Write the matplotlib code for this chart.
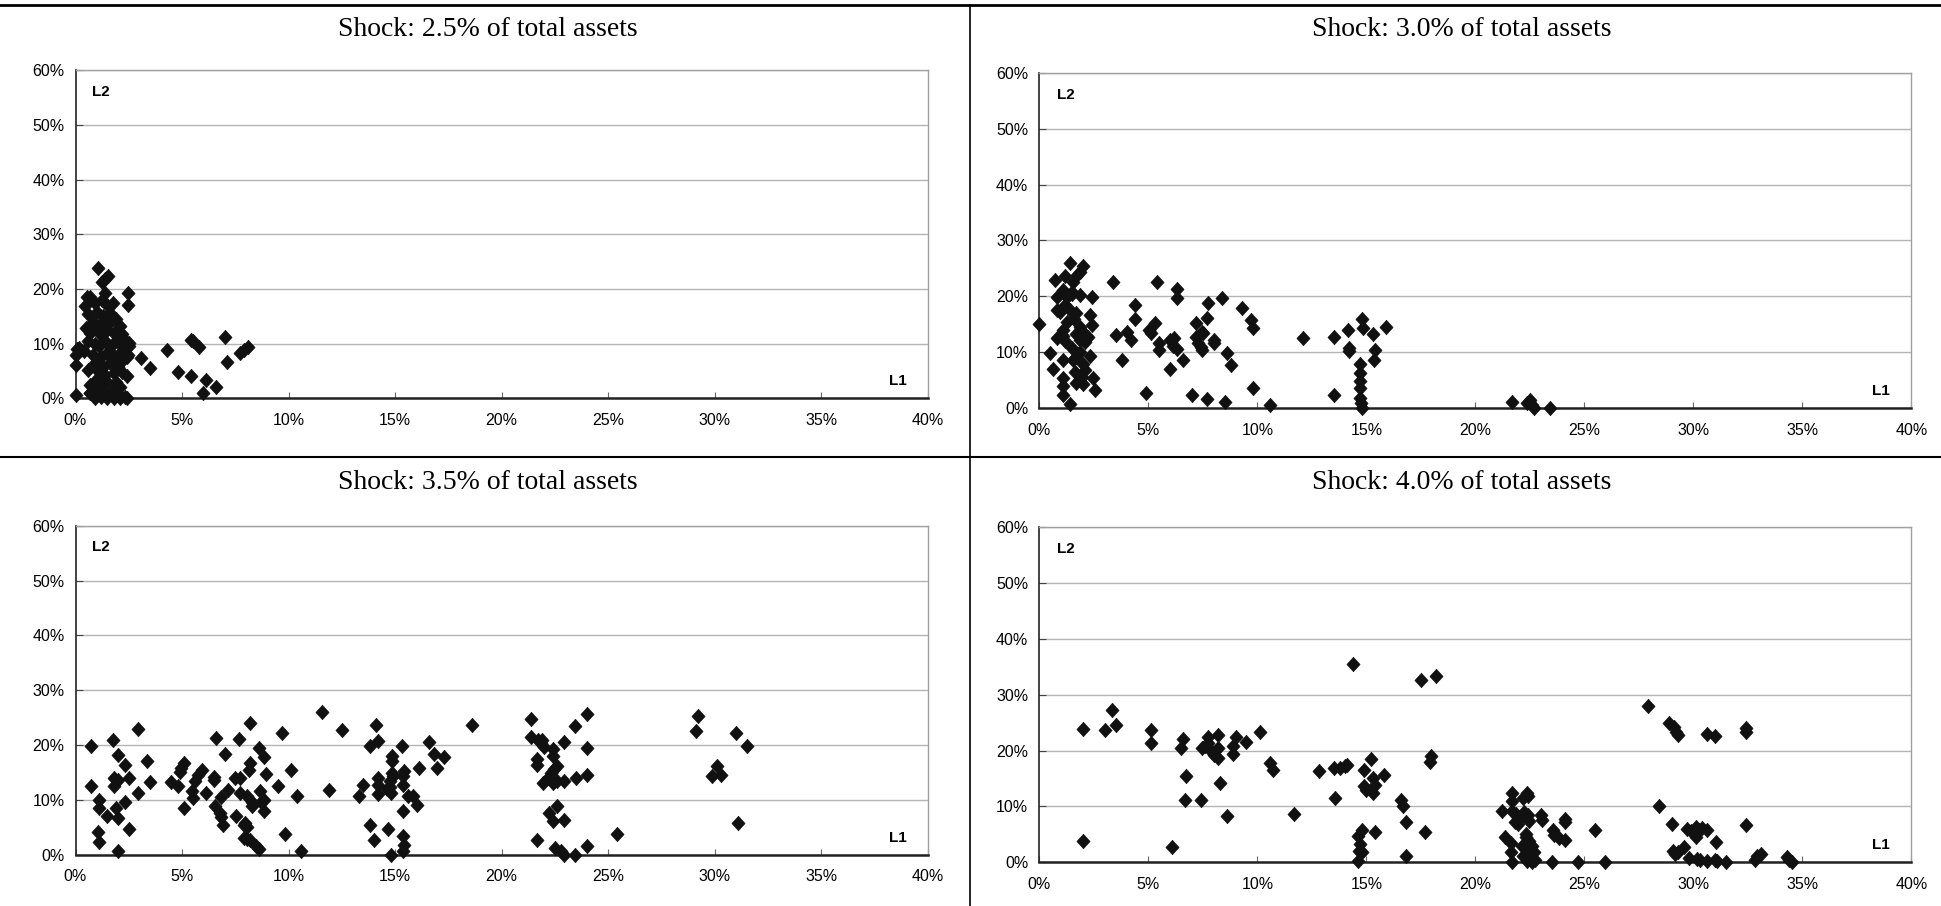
import matplotlib
matplotlib.use('Agg')
from matplotlib import pyplot as plt
from matplotlib.lines import Line2D
from matplotlib.ticker import FuncFormatter, MultipleLocator

# (L1, L2) pairs in %, shock 2.5% of total assets
p1_points = [
    (1.07, 23.8), (1.54, 22.4), (1.23, 21.3), (1.4, 21.8), (2.48, 19.2), (2.48, 17.1),
    (0.52, 18.6), (0.68, 18.6), (1.38, 19.2), (1.23, 18.0), (1.78, 17.5), (0.45, 16.8),
    (2.25, 11.0), (2.5, 10.1), (3.07, 7.3), (0.05, 9.1), (0.0, 7.9), (0.0, 6.1), (0.0, 0.6),
    (2.4, 7.6), (2.4, 4.0), (2.3, 0.3), (0.6, 5.2), (0.68, 2.4), (0.7, 0.9), (2.0, 5.8),
    (1.93, 2.1), (3.5, 5.5), (4.3, 8.9), (4.8, 4.8), (5.4, 10.7), (5.5, 10.4), (5.8, 9.4),
    (5.4, 4.1), (6.1, 3.3), (6.0, 1.0), (6.6, 2.1), (7.0, 11.3), (7.1, 6.6), (7.7, 8.3),
    (7.9, 8.9), (8.1, 9.4), (0.15, 9.2),
    (0.6, 15.5), (0.8, 14.0), (1.0, 15.8), (1.3, 15.0), (1.6, 15.6), (1.9, 14.5), (2.1, 13.2),
    (0.5, 12.8), (0.7, 12.0), (1.0, 12.9), (1.2, 11.5), (1.5, 12.5), (1.8, 12.0), (2.2, 11.8),
    (0.6, 10.5), (0.9, 10.0), (1.1, 9.5), (1.4, 10.4), (1.7, 9.8), (2.0, 10.3), (2.3, 9.4),
    (0.4, 8.6), (0.8, 8.0), (1.2, 7.6), (1.5, 8.3), (1.8, 7.8), (2.1, 8.2),
    (0.9, 6.4), (1.3, 5.8), (1.6, 6.5), (2.0, 6.2), (1.1, 4.9), (1.4, 4.2), (1.8, 4.6),
    (2.2, 4.8), (0.9, 3.2), (1.2, 2.7), (1.5, 3.0), (1.9, 2.9), (2.1, 2.0), (1.0, 1.5),
    (1.3, 1.1), (1.7, 1.4), (2.0, 0.8), (0.9, 0.0), (1.2, 0.2), (1.5, 0.0), (1.8, 0.1),
    (2.1, 0.0), (2.4, 0.0), (0.7, 0.9), (1.2, 13.8), (1.6, 13.9), (0.9, 17.5), (1.5, 17.0),
    (2.5, 9.5), (2.45, 8.0), (2.1, 6.4),
]

# shock 3.0% of total assets
p2_points = [
    (1.4, 25.9), (2.0, 25.4), (1.85, 24.4), (0.72, 22.9), (1.18, 23.6), (1.56, 22.6),
    (3.4, 22.5), (0.83, 19.9), (1.1, 21.1), (1.25, 19.9), (1.48, 20.5), (1.87, 20.2),
    (2.4, 19.9), (0.8, 17.5), (0.95, 17.2), (1.18, 18.5), (1.4, 17.6), (1.7, 17.0),
    (2.32, 16.7), (2.4, 14.9), (0.0, 15.1), (3.5, 13.1), (4.0, 13.7), (1.87, 14.6),
    (2.0, 13.7), (2.25, 12.8), (2.1, 11.8), (1.87, 12.2), (1.7, 13.2), (0.8, 12.5),
    (1.1, 14.0), (1.18, 12.0), (1.1, 13.0), (0.5, 9.8), (0.65, 7.1), (1.1, 8.6),
    (1.1, 5.4), (1.1, 3.9), (1.1, 2.4), (1.4, 0.8), (1.56, 8.6), (1.7, 9.2), (1.87, 10.1),
    (2.0, 8.0), (2.1, 6.9), (2.32, 9.3), (1.95, 5.6), (1.7, 4.6), (2.0, 4.3), (2.48, 5.4),
    (2.55, 3.3), (3.8, 8.6), (1.5, 10.8), (1.65, 6.5), (1.6, 16.0), (1.25, 15.5),
    (1.5, 20.8), (1.75, 23.8),
    (4.2, 12.2), (4.4, 18.5), (4.4, 15.9), (4.9, 2.8), (5.05, 14.0), (5.1, 13.4),
    (5.3, 15.3), (5.4, 22.6), (5.5, 11.6), (5.5, 10.4), (6.0, 12.2), (6.15, 11.2),
    (6.3, 21.4), (6.2, 12.6), (6.3, 10.6), (6.3, 19.7), (6.0, 7.0), (6.6, 8.6),
    (7.0, 2.4), (7.2, 15.2), (7.2, 12.8), (7.3, 11.6), (7.45, 13.7), (7.5, 13.4),
    (7.45, 10.4), (7.4, 11.0), (7.7, 16.1), (7.75, 18.9), (7.7, 1.6), (8.0, 12.3),
    (8.0, 11.6), (8.4, 19.8), (8.6, 9.8), (8.8, 7.7), (8.5, 1.2), (9.3, 17.9),
    (9.7, 15.8), (9.8, 14.3), (9.8, 3.6), (10.6, 0.6), (12.1, 12.5), (13.5, 12.7),
    (13.5, 2.4), (14.15, 14.0), (14.2, 10.7), (14.2, 10.3), (14.7, 8.0), (14.7, 6.3),
    (14.7, 4.8), (14.7, 3.6), (14.7, 1.8), (14.75, 0.9), (14.8, 0.0), (14.8, 15.9),
    (14.85, 14.3), (15.3, 13.2), (15.4, 10.4), (15.35, 8.6), (15.9, 14.6),
    (21.7, 1.2), (22.35, 0.9), (22.5, 1.5), (22.6, 0.6), (22.7, 0.0), (23.4, 0.0),
]

# shock 3.5% of total assets
p3_points = [
    (0.75, 19.9), (0.75, 12.6), (1.1, 10.0), (1.1, 8.6), (1.05, 4.1), (1.1, 2.4), (1.5, 7.1),
    (1.75, 21.0), (1.8, 14.0), (1.8, 12.6), (2.0, 18.1), (1.9, 8.6), (2.0, 6.7), (2.0, 0.7),
    (2.0, 13.7), (2.3, 16.4), (2.3, 9.6), (2.5, 14.0), (2.5, 4.6), (2.95, 23.0), (2.95, 11.3),
    (3.35, 17.1), (3.5, 13.2), (4.5, 13.2), (4.8, 12.5), (4.9, 15.0), (4.95, 15.8),
    (5.1, 16.8), (5.1, 8.6), (5.45, 11.6), (5.5, 10.4), (5.6, 13.4), (5.75, 14.6),
    (5.95, 15.5), (6.1, 11.3), (6.5, 13.7), (6.5, 14.2), (6.6, 21.3), (6.55, 8.8),
    (6.8, 7.6), (6.85, 6.9), (6.9, 5.5), (7.0, 18.3), (6.85, 10.5), (7.15, 11.8),
    (7.5, 14.0), (7.7, 14.0), (7.65, 21.1), (7.55, 7.0), (7.7, 11.3), (7.9, 5.5),
    (7.95, 5.8), (8.05, 5.0), (7.9, 3.1), (8.05, 2.9), (8.15, 15.5), (8.2, 16.8),
    (8.2, 24.1), (8.05, 10.7), (8.3, 9.7), (8.3, 8.8), (8.2, 2.7), (8.45, 1.5), (8.6, 1.0),
    (8.6, 19.5), (8.65, 11.6), (8.7, 9.7), (8.85, 17.8), (8.95, 14.8), (8.85, 10.0),
    (8.85, 7.9), (9.5, 12.6), (9.7, 22.2), (9.85, 3.7), (10.1, 15.5), (10.4, 10.7),
    (10.6, 0.7), (11.55, 26.0), (11.9, 11.8), (12.5, 22.8), (13.3, 10.7), (13.5, 12.8),
    (13.8, 19.8), (13.8, 5.5), (14.0, 2.7), (14.1, 23.6), (14.2, 20.8), (14.2, 14.0),
    (14.2, 12.8), (14.2, 11.0), (14.6, 11.9), (14.65, 4.7), (14.75, 13.4), (14.75, 12.4),
    (14.8, 11.3), (14.85, 18.0), (14.85, 17.1), (14.85, 14.9), (14.9, 14.3), (14.8, 0.0),
    (15.3, 19.8), (15.4, 15.2), (15.35, 14.3), (15.35, 12.8), (15.35, 7.9), (15.35, 3.4),
    (15.4, 1.8), (15.35, 0.6), (15.6, 10.7), (15.85, 10.7), (16.0, 9.1), (16.1, 15.8),
    (16.6, 20.5), (16.8, 18.3), (16.95, 15.8), (17.3, 17.8), (18.6, 23.6),
    (21.35, 24.7), (21.35, 21.4), (21.7, 20.9), (21.85, 20.3), (22.0, 19.7), (21.9, 20.9),
    (21.65, 17.4), (21.65, 16.4), (21.65, 2.6), (21.95, 13.1), (22.15, 14.0), (22.3, 14.9),
    (22.2, 7.6), (22.4, 19.2), (22.4, 18.0), (22.45, 15.7), (22.6, 16.2), (22.6, 13.4),
    (22.4, 13.0), (22.4, 6.1), (22.6, 8.8), (22.5, 1.2), (22.9, 20.5), (22.9, 13.4),
    (22.9, 6.4), (22.8, 0.6), (22.9, 0.0), (23.45, 23.4), (23.5, 14.0), (23.45, 0.0),
    (24.0, 25.6), (24.0, 19.5), (24.0, 14.6), (24.0, 1.5), (25.4, 3.8), (29.2, 25.3),
    (29.1, 22.5), (29.85, 14.3), (30.1, 16.1), (30.3, 14.6), (31.0, 22.2), (31.1, 5.8),
    (31.5, 19.8),
]

# shock 4.0% of total assets
p4_points = [
    (2.0, 23.9), (2.0, 3.8), (3.0, 23.6), (3.35, 27.2), (3.5, 24.6), (5.1, 23.7), (5.1, 21.3),
    (6.1, 2.7), (6.5, 20.5), (6.6, 22.1), (6.75, 15.5), (6.7, 11.2), (7.4, 11.2), (7.45, 20.5),
    (7.6, 20.9), (7.75, 22.5), (7.75, 21.4), (7.9, 19.7), (8.0, 19.2), (8.2, 22.8),
    (8.2, 20.5), (8.2, 18.7), (8.3, 14.2), (8.6, 8.3), (8.9, 20.9), (8.9, 19.4), (9.0, 22.5),
    (9.5, 21.5), (10.1, 23.4), (10.6, 17.8), (10.7, 16.6), (11.7, 8.6), (12.85, 16.3),
    (13.5, 16.9), (13.55, 11.5), (13.8, 16.9), (14.0, 17.2), (14.1, 17.4), (14.4, 35.5),
    (14.6, 4.7), (14.6, 0.2), (14.7, 3.3), (14.65, 2.0), (14.8, 1.8), (14.8, 5.8),
    (14.9, 16.6), (14.9, 13.7), (15.0, 13.0), (15.2, 18.5), (15.3, 15.1), (15.4, 13.9),
    (15.3, 12.4), (15.4, 5.5), (15.8, 15.7), (16.6, 11.2), (16.7, 10.0), (16.8, 7.2),
    (16.8, 1.1), (17.5, 32.7), (17.7, 5.4), (17.9, 17.9), (17.95, 19.1), (18.2, 33.4),
    (21.7, 12.4), (21.7, 10.9), (22.35, 12.4), (22.4, 11.8), (22.2, 11.5), (21.2, 9.1),
    (21.7, 9.1), (21.85, 8.6), (22.0, 7.5), (21.8, 7.2), (21.95, 6.9), (22.25, 9.0),
    (22.4, 8.4), (22.45, 7.4), (23.0, 8.5), (23.05, 7.6), (24.1, 7.3), (24.1, 7.8),
    (23.55, 5.8), (23.6, 4.9), (23.85, 4.3), (24.1, 4.0), (25.5, 5.8), (21.35, 4.6),
    (21.65, 3.4), (21.65, 1.9), (21.7, 0.1), (22.3, 5.1), (22.45, 3.9), (22.6, 3.0),
    (22.4, 2.1), (22.2, 1.2), (22.35, 0.3), (22.55, 0.9), (22.7, 1.8), (22.6, 0.1),
    (22.3, 4.6), (22.15, 2.9), (22.75, 0.4), (23.5, 0.1), (24.7, 0.1), (25.95, 0.1),
    (27.9, 28.0), (28.4, 10.1), (28.9, 24.9), (29.1, 24.2), (29.2, 23.4), (29.3, 22.8),
    (29.0, 6.9), (29.05, 2.1), (29.15, 1.5), (29.3, 1.8), (29.55, 2.7), (29.7, 6.0),
    (29.9, 5.6), (30.1, 6.3), (30.25, 5.8), (30.4, 6.1), (30.6, 5.7), (30.1, 4.5),
    (29.8, 0.8), (30.15, 0.6), (30.3, 0.5), (30.6, 0.3), (30.6, 23.0), (31.05, 3.6),
    (31.0, 22.6), (31.0, 0.5), (31.1, 0.2), (31.5, 0.0), (32.4, 24.0), (32.4, 23.3),
    (32.4, 6.6), (32.8, 0.4), (32.9, 1.1), (33.1, 1.5), (34.3, 1.0), (34.4, 0.5), (34.5, 0.0),
]

shocks = ['2.5', '3.0', '3.5', '4.0']
panels = [p1_points, p2_points, p3_points, p4_points]

W, H = 1941, 906
# axes boxes in pixels: left, right, top, bottom
boxes = [(75.5, 928, 70.3, 398.3), (1039.3, 1911.5, 72.7, 408.3),
         (75.5, 928, 525.7, 854.7), (1039.3, 1911.5, 527, 862.3)]
title_pos = [(488, 29), (1462, 29), (488, 482), (1462, 482)]

# slightly tall diamond, like the spreadsheet marker
diamond = [(0, 1.1), (1, 0), (0, -1.1), (-1, 0), (0, 1.1)]

fig = plt.figure(figsize=(W / 100, H / 100), dpi=100)
pct = FuncFormatter(lambda v, pos: f'{v:.0f}%')

for points, (left, right, top, bottom), shock, (tx, ty) in zip(panels, boxes, shocks, title_pos):
    l1 = [p[0] for p in points]
    l2 = [p[1] for p in points]
    ax = fig.add_axes([left / W, 1 - bottom / H, (right - left) / W, (bottom - top) / H])
    ax.set_xlim(0, 40)
    ax.set_ylim(0, 60)
    ax.xaxis.set_major_locator(MultipleLocator(5))
    ax.yaxis.set_major_locator(MultipleLocator(10))
    ax.xaxis.set_major_formatter(pct)
    ax.yaxis.set_major_formatter(pct)
    ax.grid(axis='y', color='#b4b4b4', linewidth=1.0)
    ax.set_axisbelow(True)
    for side in ['top', 'right']:
        ax.spines[side].set_color('#a0a0a0')
        ax.spines[side].set_linewidth(1.0)
    ax.spines['left'].set_color('#222222')
    ax.spines['left'].set_linewidth(1.2)
    ax.spines['bottom'].set_color('#222222')
    ax.spines['bottom'].set_linewidth(1.8)
    ax.tick_params(axis='x', direction='in', length=4, width=0.8, color='#666666',
                   labelsize=11.5, pad=10.5)
    ax.tick_params(axis='y', direction='in', length=5, width=0.8, color='#444444',
                   labelsize=11.5, pad=8)
    for lab in ax.get_xticklabels() + ax.get_yticklabels():
        lab.set_fontfamily('Liberation Sans')
    ax.plot(l1, l2, linestyle='none', marker=diamond, markersize=10.5, color='#111111',
            markeredgewidth=0.4, clip_on=False, zorder=3)
    ax.text(0.03, 0.935, 'L2', transform=ax.transAxes, fontsize=11, fontweight='bold',
            family='Liberation Sans', ha='center', va='center')
    ax.text(0.965, 0.052, 'L1', transform=ax.transAxes, fontsize=11, fontweight='bold',
            family='Liberation Sans', ha='center', va='center')
    fig.text(tx / W, 1 - ty / H, f'Shock: {shock}% of total assets', fontsize=20,
             family='Liberation Serif', ha='center', va='center')

# frame lines of the table layout
fig.add_artist(Line2D([0, 1], [1 - 5 / H, 1 - 5 / H], color='black', linewidth=2.0))
fig.add_artist(Line2D([0, 1], [1 - 457 / H, 1 - 457 / H], color='black', linewidth=1.5))
fig.add_artist(Line2D([970 / W, 970 / W], [0, 1 - 5 / H], color='black', linewidth=1.2))

fig.savefig('out.png', dpi=100)
